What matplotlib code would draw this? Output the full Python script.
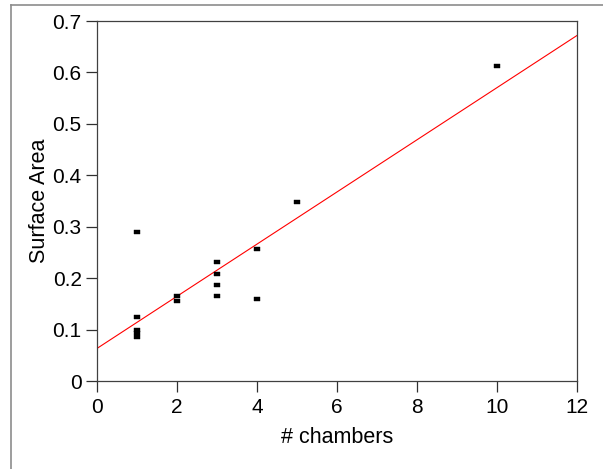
import numpy as np
import matplotlib
matplotlib.use("Agg")
import matplotlib.pyplot as plt
from matplotlib.lines import Line2D

# ======================================
# Data
# ======================================

chambers = [1, 1, 1, 1, 1, 2, 2, 3, 3, 3, 3, 4, 4, 5, 10]
surface_area = [0.290, 0.124, 0.099, 0.094, 0.085,
                0.166, 0.156,
                0.232, 0.209, 0.186, 0.166,
                0.256, 0.159,
                0.348,
                0.612]

x_ticks = [0, 2, 4, 6, 8, 10, 12]
y_ticks = [0, 0.1, 0.2, 0.3, 0.4, 0.5, 0.6, 0.7]
y_tick_labels = ["0", "0.1", "0.2", "0.3", "0.4", "0.5", "0.6", "0.7"]

# linear fit drawn across the full x range
slope, intercept = np.polyfit(chambers, surface_area, 1)
fit_x = np.array([x_ticks[0], x_ticks[-1]])
fit_y = slope * fit_x + intercept

# ======================================
# Figure
# ======================================

plt.rcParams['font.family'] = ['Liberation Sans', 'DejaVu Sans']

fig = plt.figure(figsize=(6.03, 4.69), dpi=100)
ax = fig.add_axes([0.1609, 0.1876, 0.796, 0.7676])

# outer frame (left and top only visible)
fig.add_artist(Line2D([11 / 603, 11 / 603], [0, 1 - 5 / 469],
                      transform=fig.transFigure, color="#8c8c8c", lw=1.2))
fig.add_artist(Line2D([11 / 603, 1], [1 - 5 / 469, 1 - 5 / 469],
                      transform=fig.transFigure, color="#8c8c8c", lw=1.2))

ax.plot(fit_x, fit_y, color="red", lw=0.8, zorder=2)

rect = [(-1, -0.55), (1, -0.55), (1, 0.55), (-1, 0.55), (-1, -0.55)]
ax.plot(chambers, surface_area, linestyle="none", marker=rect,
        markersize=4.3, color="black", markeredgewidth=0.3, zorder=3)

ax.set_xlim(0, 12)
ax.set_ylim(0, 0.7)
ax.set_xticks(x_ticks)
ax.set_yticks(y_ticks)
ax.set_yticklabels(y_tick_labels)

ax.tick_params(direction="out", length=8, width=0.9, color="#303030",
               labelsize=15)
ax.tick_params(axis="x", pad=4.5)
ax.tick_params(axis="y", pad=3)

for side in ["left", "right", "top", "bottom"]:
    ax.spines[side].set_color("#404040")
    ax.spines[side].set_linewidth(0.9)

ax.set_xlabel("# chambers", fontsize=15.5, labelpad=7)
ax.set_ylabel("Surface Area", fontsize=15.5, labelpad=2)

fig.savefig("out.png", dpi=100)
